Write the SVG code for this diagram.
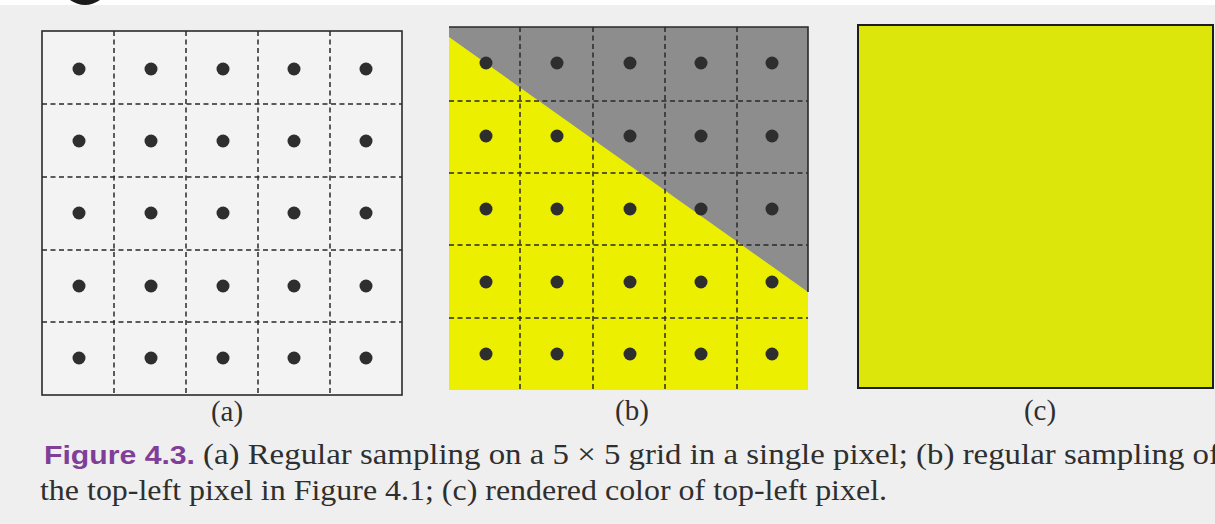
<svg xmlns="http://www.w3.org/2000/svg" width="1215" height="524" viewBox="0 0 1215 524">
  <defs>
    <style>
      .grid { stroke: #2a2a2a; stroke-width: 1.5; stroke-dasharray: 5 3.5; fill: none; }
      .dot { fill: #2e2e2e; }
      .border { stroke: #2a2a2a; stroke-width: 1.6; fill: none; }
      .lbl { font-family: "Liberation Serif", "Times New Roman", serif; font-size: 29px; fill: #2f2f2f; }
      .cap { font-family: "Liberation Serif", "Times New Roman", serif; font-size: 29px; fill: #2f2f2f; }
      .fig { font-family: "Liberation Sans", Arial, sans-serif; font-weight: bold; font-size: 26px; fill: #7f3f98; }
    </style>
    <circle id="d" r="6.5" class="dot"/>
  </defs>

  <!-- background -->
  <rect x="0" y="0" width="1215" height="524" fill="#efefef"/>
  <rect x="0" y="0" width="1215" height="5" fill="#ffffff"/>
  <path d="M70,0 Q85,10 100,0 Z" fill="#1a1a1a"/>

  <!-- panel (a) -->
  <g id="panel-a">
    <rect x="42" y="31" width="360" height="364" fill="#f3f3f3"/>
    <g class="grid">
      <line x1="114" y1="31" x2="114" y2="395"/>
      <line x1="186" y1="31" x2="186" y2="395"/>
      <line x1="258" y1="31" x2="258" y2="395"/>
      <line x1="330" y1="31" x2="330" y2="395"/>
      <line x1="42" y1="104" x2="402" y2="104"/>
      <line x1="42" y1="177" x2="402" y2="177"/>
      <line x1="42" y1="250" x2="402" y2="250"/>
      <line x1="42" y1="322" x2="402" y2="322"/>
    </g>
    <g>
      <use href="#d" x="79" y="69"/><use href="#d" x="151" y="69"/><use href="#d" x="223" y="69"/><use href="#d" x="294" y="69"/><use href="#d" x="366" y="69"/>
      <use href="#d" x="79" y="141"/><use href="#d" x="151" y="141"/><use href="#d" x="223" y="141"/><use href="#d" x="294" y="141"/><use href="#d" x="366" y="141"/>
      <use href="#d" x="79" y="213"/><use href="#d" x="151" y="213"/><use href="#d" x="223" y="213"/><use href="#d" x="294" y="213"/><use href="#d" x="366" y="213"/>
      <use href="#d" x="79" y="286"/><use href="#d" x="151" y="286"/><use href="#d" x="223" y="286"/><use href="#d" x="294" y="286"/><use href="#d" x="366" y="286"/>
      <use href="#d" x="79" y="358"/><use href="#d" x="151" y="358"/><use href="#d" x="223" y="358"/><use href="#d" x="294" y="358"/><use href="#d" x="366" y="358"/>
    </g>
    <rect x="42" y="31" width="360" height="364" class="border"/>
    <text x="227" y="421" text-anchor="middle" class="lbl">(a)</text>
  </g>

  <!-- panel (b) -->
  <g id="panel-b">
    <rect x="449" y="27" width="359" height="363" fill="#ecef00"/>
    <polygon points="449,27 808,27 808,292 449,37" fill="#8d8d8d"/>
    <g class="grid">
      <line x1="520" y1="27" x2="520" y2="390"/>
      <line x1="593" y1="27" x2="593" y2="390"/>
      <line x1="665" y1="27" x2="665" y2="390"/>
      <line x1="737" y1="27" x2="737" y2="390"/>
      <line x1="449" y1="101" x2="808" y2="101"/>
      <line x1="449" y1="173" x2="808" y2="173"/>
      <line x1="449" y1="245" x2="808" y2="245"/>
      <line x1="449" y1="318" x2="808" y2="318"/>
    </g>
    <g>
      <use href="#d" x="486" y="63"/><use href="#d" x="557" y="63"/><use href="#d" x="630" y="63"/><use href="#d" x="701" y="63"/><use href="#d" x="772" y="63"/>
      <use href="#d" x="486" y="136"/><use href="#d" x="557" y="136"/><use href="#d" x="630" y="136"/><use href="#d" x="701" y="136"/><use href="#d" x="772" y="136"/>
      <use href="#d" x="486" y="209"/><use href="#d" x="557" y="209"/><use href="#d" x="630" y="209"/><use href="#d" x="701" y="209"/><use href="#d" x="772" y="209"/>
      <use href="#d" x="486" y="282"/><use href="#d" x="557" y="282"/><use href="#d" x="630" y="282"/><use href="#d" x="701" y="282"/><use href="#d" x="772" y="282"/>
      <use href="#d" x="486" y="354"/><use href="#d" x="557" y="354"/><use href="#d" x="630" y="354"/><use href="#d" x="701" y="354"/><use href="#d" x="772" y="354"/>
    </g>
    <polyline points="449,27 808,27 808,292" class="border"/>
    <text x="632" y="420" text-anchor="middle" class="lbl">(b)</text>
  </g>

  <!-- panel (c) -->
  <g id="panel-c">
    <rect x="858" y="25" width="355" height="363" fill="#dce60a" stroke="#1e1e1e" stroke-width="2"/>
    <text x="1040" y="420" text-anchor="middle" class="lbl">(c)</text>
  </g>

  <!-- caption -->
  <g id="caption">
    <text x="44" y="464" class="fig" textLength="151" lengthAdjust="spacingAndGlyphs">Figure 4.3.</text>
    <text x="203" y="464" class="cap" textLength="1017" lengthAdjust="spacingAndGlyphs">(a) Regular sampling on a 5 × 5 grid in a single pixel; (b) regular sampling of</text>
    <text x="40" y="500" class="cap" textLength="847" lengthAdjust="spacingAndGlyphs">the top-left pixel in Figure 4.1; (c) rendered color of top-left pixel.</text>
  </g>
</svg>
